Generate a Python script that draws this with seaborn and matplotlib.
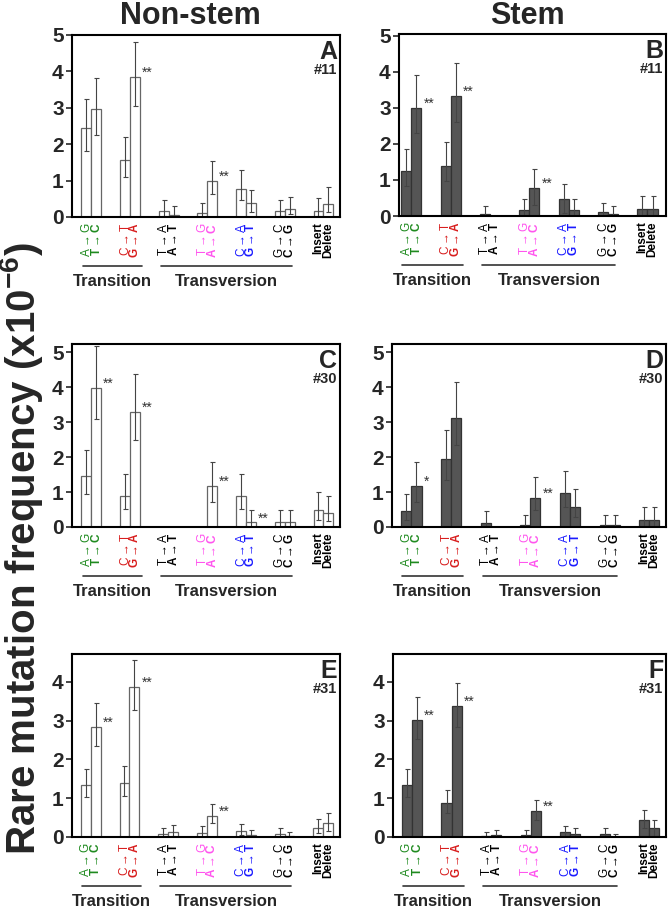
import numpy as np
import pandas as pd
import matplotlib
matplotlib.use('Agg')
import matplotlib.pyplot as plt
import seaborn as sns

# mutation labels, one per bar (two bars per group)
pairs = ['AG_TC', 'CT_GA', 'TA_AT', 'TG_AC', 'CA_GT', 'GC_CG', 'Ins_Del']
bar_labels = ['A→G', 'T→C', 'C→T', 'G→A', 'T→A', 'A→T', 'T→G', 'A→C',
              'C→A', 'G→T', 'G→C', 'C→G', 'Insert', 'Delete']
label_colors = ['#1e8a1e', '#1e8a1e', '#d81e1e', '#d81e1e', 'black', 'black',
                '#ff55ee', '#ff55ee', '#1a1aff', '#1a1aff', 'black', 'black',
                'black', 'black']

# values (x10^-6), with lower / upper error bar ends
nonstem11 = [2.44, 2.96, 1.56, 3.84, 0.16, 0.05, 0.12, 1.00, 0.78, 0.38, 0.16, 0.22, 0.16, 0.37]
nonstem11_lo = [1.82, 2.26, 1.09, 3.04, 0.02, 0.0, 0.0, 0.63, 0.46, 0.14, 0.04, 0.07, 0.04, 0.13]
nonstem11_hi = [3.23, 3.82, 2.21, 4.80, 0.46, 0.29, 0.38, 1.55, 1.28, 0.74, 0.47, 0.54, 0.52, 0.82]

stem11 = [1.24, 3.00, 1.40, 3.32, 0.05, 0.0, 0.16, 0.79, 0.47, 0.16, 0.11, 0.05, 0.20, 0.20]
stem11_lo = [0.84, 2.31, 0.96, 2.60, 0.0, 0.0, 0.0, 0.30, 0.09, 0.0, 0.0, 0.0, 0.0, 0.0]
stem11_hi = [1.85, 3.90, 2.04, 4.25, 0.28, 0.0, 0.47, 1.30, 0.89, 0.47, 0.37, 0.29, 0.55, 0.55]

nonstem30 = [1.45, 3.98, 0.90, 3.30, 0.0, 0.0, 0.0, 1.16, 0.90, 0.13, 0.13, 0.13, 0.49, 0.41]
nonstem30_lo = [0.93, 3.09, 0.51, 2.49, 0.0, 0.0, 0.0, 0.71, 0.51, 0.0, 0.0, 0.0, 0.21, 0.17]
nonstem30_hi = [2.21, 5.16, 1.51, 4.37, 0.0, 0.0, 0.0, 1.86, 1.51, 0.50, 0.50, 0.50, 1.00, 0.90]

stem30 = [0.45, 1.16, 1.94, 3.12, 0.12, 0.0, 0.06, 0.83, 0.97, 0.57, 0.06, 0.06, 0.19, 0.19]
stem30_lo = [0.21, 0.71, 1.34, 2.35, 0.0, 0.0, 0.0, 0.48, 0.57, 0.28, 0.0, 0.0, 0.0, 0.0]
stem30_hi = [0.94, 1.85, 2.77, 4.14, 0.46, 0.0, 0.35, 1.44, 1.60, 1.10, 0.35, 0.35, 0.56, 0.56]

nonstem31 = [1.35, 2.85, 1.40, 3.87, 0.09, 0.13, 0.11, 0.55, 0.15, 0.05, 0.09, 0.03, 0.24, 0.36]
nonstem31_lo = [1.02, 2.34, 1.06, 3.28, 0.0, 0.03, 0.0, 0.35, 0.05, 0.0, 0.0, 0.0, 0.10, 0.15]
nonstem31_hi = [1.76, 3.45, 1.83, 4.56, 0.23, 0.31, 0.28, 0.85, 0.34, 0.17, 0.23, 0.14, 0.46, 0.63]

stem31 = [1.35, 3.03, 0.88, 3.37, 0.03, 0.05, 0.05, 0.67, 0.13, 0.08, 0.09, 0.0, 0.43, 0.22]
stem31_lo = [1.02, 2.52, 0.62, 2.85, 0.0, 0.0, 0.0, 0.43, 0.03, 0.0, 0.0, 0.0, 0.22, 0.03]
stem31_hi = [1.76, 3.61, 1.22, 3.97, 0.14, 0.17, 0.17, 0.95, 0.28, 0.23, 0.24, 0.09, 0.70, 0.43]

# significance marks (bar index -> text)
stars_A = {3: '**', 7: '**'}
stars_B = {1: '**', 3: '**', 7: '**'}
stars_C = {1: '**', 3: '**', 7: '**', 9: '**'}
stars_D = {1: '*', 7: '**'}
stars_E = {1: '**', 3: '**', 7: '**'}
stars_F = {1: '**', 3: '**', 7: '**'}

sns.set_style('ticks')
plt.rcParams['font.family'] = ['Liberation Sans', 'DejaVu Sans']
plt.rcParams['mathtext.fontset'] = 'custom'
plt.rcParams['mathtext.rm'] = 'Liberation Sans'
plt.rcParams['mathtext.bf'] = 'Liberation Sans:bold'
plt.rcParams['mathtext.fallback'] = 'cm'

W, H = 668, 909
fig = plt.figure(figsize=(W / 100, H / 100), dpi=100)


def px_axes(left, top, right, bottom):
    return fig.add_axes([left / W, 1 - bottom / H, (right - left) / W, (bottom - top) / H])


def tick_text(s):
    # draw the arrow through mathtext so it gets a full-width glyph
    return s.replace('→', r'$\rightarrow$')


panels = [
    # letter, tag, values, lo, hi, stars, stem, rect, ylim, xlim
    ('A', '#11', nonstem11, nonstem11_lo, nonstem11_hi, stars_A, False, (72, 35, 340, 217), 5.0, (-0.5, 6.43)),
    ('B', '#11', stem11, stem11_lo, stem11_hi, stars_B, True, (399, 34, 666, 216), 5.05, (-0.31, 6.47)),
    ('C', '#30', nonstem30, nonstem30_lo, nonstem30_hi, stars_C, False, (72, 344, 340, 527), 5.23, (-0.5, 6.43)),
    ('D', '#30', stem30, stem30_lo, stem30_hi, stars_D, True, (392, 344, 666, 527), 5.23, (-0.49, 6.42)),
    ('E', '#31', nonstem31, nonstem31_lo, nonstem31_hi, stars_E, False, (72, 654, 340, 837), 4.72, (-0.48, 6.43)),
    ('F', '#31', stem31, stem31_lo, stem31_hi, stars_F, True, (393, 654, 666, 837), 4.72, (-0.48, 6.42)),
]

for letter, tag, vals, lo, hi, stars, stem, rect, ytop, xlim in panels:
    ax = px_axes(*rect)
    df = pd.DataFrame({
        'pair': np.repeat(pairs, 2),
        'member': ['first', 'second'] * len(pairs),
        'value': vals,
    })
    fill = '#555555' if stem else 'white'
    edge = '#333333' if stem else '#666666'
    sns.barplot(data=df, x='pair', y='value', hue='member', order=pairs,
                hue_order=['first', 'second'],
                palette={'first': fill, 'second': fill}, saturation=1,
                width=0.51, errorbar=None, legend=False,
                edgecolor=edge, linewidth=0.9, ax=ax)

    bars = sorted(ax.patches, key=lambda p: p.get_x())
    xs = [p.get_x() + p.get_width() / 2 for p in bars]
    bw = bars[0].get_width()

    for i, x in enumerate(xs):
        if hi[i] <= vals[i] and lo[i] >= vals[i]:
            continue
        ax.errorbar(x, vals[i], yerr=[[vals[i] - lo[i]], [hi[i] - vals[i]]],
                    fmt='none', ecolor='#444444', elinewidth=0.8,
                    capsize=1.8, capthick=0.8)

    for i, s in stars.items():
        ax.annotate(s, xy=(xs[i] + bw / 2, vals[i]), xytext=(1.5, 3),
                    textcoords='offset points', ha='left', va='center',
                    fontsize=10, color='#333333')

    ax.set_xlim(*xlim)
    ax.set_ylim(0, ytop)
    ax.set_yticks(range(0, int(ytop) + 1))
    ax.set_yticklabels([str(t) for t in range(0, int(ytop) + 1)],
                       fontsize=15, fontweight='bold')
    ax.set_xticks(xs)
    ax.set_xticklabels([tick_text(s) for s in bar_labels], rotation=90, fontsize=8.5)
    for i, t in enumerate(ax.get_xticklabels()):
        t.set_color(label_colors[i])
        t.set_fontweight('bold' if (i % 2 == 1 or i >= 12) else 'normal')
        t.set_va('top')
    ax.tick_params(axis='x', length=0, pad=4)
    ax.tick_params(axis='y', direction='out', length=4, width=1.2, pad=2)
    ax.set_xlabel('')
    ax.set_ylabel('')
    for sp in ax.spines.values():
        sp.set_visible(True)
        sp.set_color('black')
        sp.set_linewidth(1.5)

    ax.text(0.99, 0.975, letter, transform=ax.transAxes, ha='right', va='top',
            fontsize=18, fontweight='bold')
    ax.text(0.99, 0.81, tag, transform=ax.transAxes, ha='right', va='center',
            fontsize=10.5, fontweight='bold')

    # group brackets under the tick labels
    tr = ax.get_xaxis_transform()
    ax.plot([xs[0] - 0.1, xs[3] + 0.18], [-0.27, -0.27], color='#333333',
            lw=1.2, transform=tr, clip_on=False)
    ax.plot([xs[4] - 0.08, xs[11] + 0.05], [-0.27, -0.27], color='#333333',
            lw=1.2, transform=tr, clip_on=False)
    ax.text((xs[0] + xs[3]) / 2 + 0.04, -0.355, 'Transition', transform=tr,
            ha='center', va='center', fontsize=12, fontweight='bold')
    ax.text((xs[4] + xs[11]) / 2, -0.355, 'Transversion', transform=tr,
            ha='center', va='center', fontsize=12, fontweight='bold')

fig.text(190 / W, 1 - 16 / H, 'Non-stem', ha='center', va='center',
         fontsize=22, fontweight='bold')
fig.text(527 / W, 1 - 16 / H, 'Stem', ha='center', va='center',
         fontsize=22, fontweight='bold')
fig.text(22 / W, 1 - 548 / H, r'Rare mutation frequency (x10$^{\mathbf{-6}}$)',
         rotation=90, ha='center', va='center', fontsize=29, fontweight='bold')

fig.savefig('out.png', dpi=100)
